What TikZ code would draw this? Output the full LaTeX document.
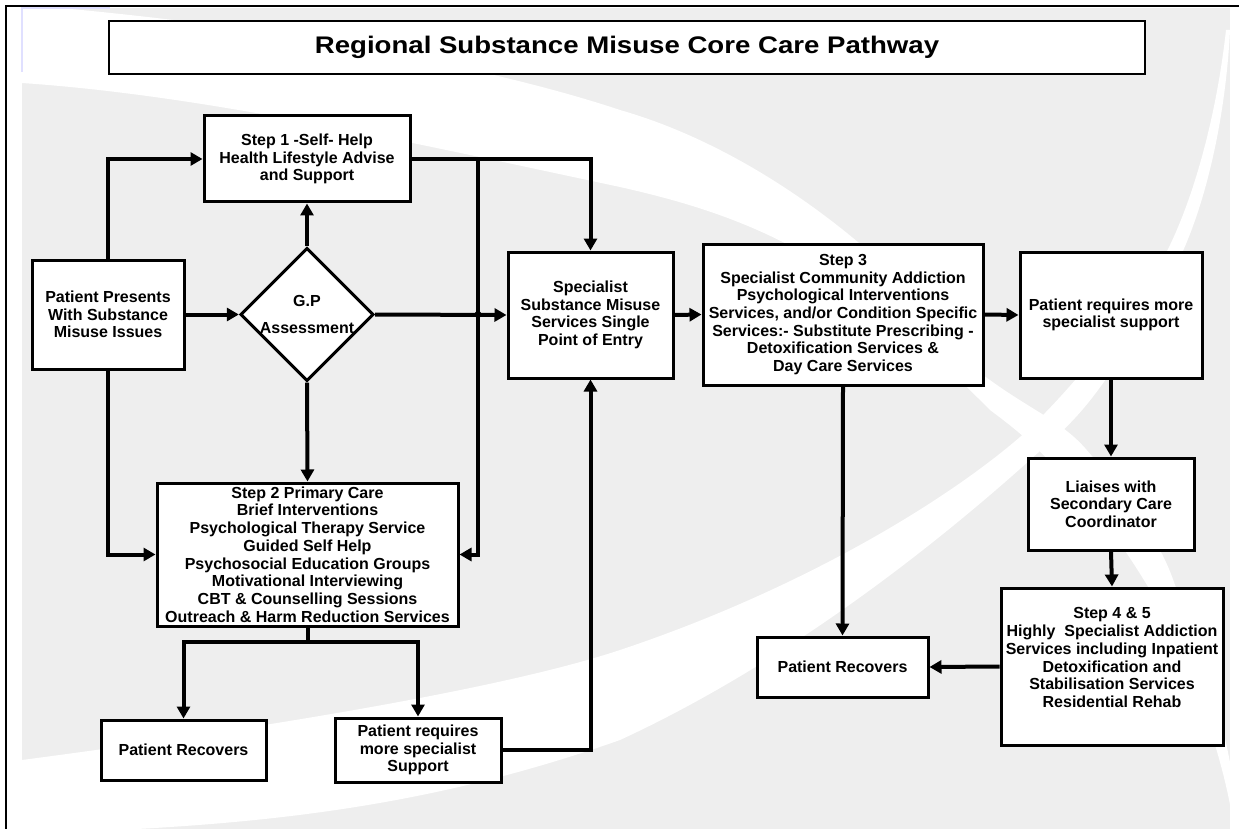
\documentclass[tikz,border=0pt]{standalone}
\usepackage{fontspec}
\setmainfont{Liberation Sans}
\usetikzlibrary{arrows.meta,shapes.geometric}
\definecolor{bg}{HTML}{EEEEEE}
\newcommand\boxfont{\bfseries\fontsize{16}{17.7}\selectfont}
\newcommand\titlefont{\bfseries\fontsize{24}{28}\selectfont}
\tikzset{
  box/.style={draw, line width=3pt, fill=white, align=center, inner sep=1pt, font=\boxfont},
  decision/.style={diamond, draw, line width=3pt, fill=white, align=center, inner sep=0pt, font=\boxfont},
  conn/.style={line width=4pt, -{Triangle[length=12pt,width=13pt]}},
  plain/.style={line width=4pt}
}
\begin{document}
\begin{tikzpicture}[x=1pt,y=-1pt]
\useasboundingbox (0,0) rectangle (1239,829);
% background
\fill[bg] (22,8) rectangle (1230,829);
\begin{scope}
\clip (22,8) rectangle (1239,829);
% upper band sweeping down to the lower right
\fill[white] (22,8) -- (60,8) .. controls (300,30) and (500,70) .. (620,110)
  .. controls (760,150) and (900,260) .. (983,375)
  .. controls (1030,410) and (1060,420) .. (1085,448)
  .. controls (1130,500) and (1160,540) .. (1175,585)
  .. controls (1205,660) and (1232,740) .. (1239,829)
  -- (1234,829) .. controls (1225,760) and (1190,660) .. (1150,590)
  .. controls (1120,540) and (1090,500) .. (1060,472)
  .. controls (1030,440) and (1010,425) .. (990,410)
  .. controls (950,370) and (900,320) .. (860,290)
  .. controls (780,230) and (700,205) .. (620,187)
  .. controls (400,140) and (200,95) .. (22,83) -- cycle;
% lower band rising to the upper right
\fill[white] (22,760) .. controls (250,730) and (500,690) .. (620,650)
  .. controls (800,590) and (950,500) .. (1028,430)
  .. controls (1090,370) and (1130,310) .. (1150,280)
  .. controls (1185,230) and (1215,130) .. (1226,30)
  -- (1230,30) .. controls (1225,130) and (1200,230) .. (1165,285)
  .. controls (1130,340) and (1100,400) .. (1052,440)
  .. controls (900,580) and (750,680) .. (620,740)
  .. controls (450,800) and (300,820) .. (137,829) -- (22,829) -- cycle;
\end{scope}
\draw[blue!12, line width=1.5pt] (22,72) -- (22,8) -- (110,8);
% frame
\draw[line width=2pt] (6,829) -- (6,6) -- (1239,6);

% nodes
\node[box, line width=2pt, font=\titlefont, minimum width=1036pt, minimum height=53pt] (title) at (627,47.5) {\scalebox{1.15}[1]{Regional Substance Misuse Core Care Pathway}};
\node[box, minimum width=206pt, minimum height=86pt] (step1) at (307,159) {Step 1 -Self- Help\\Health Lifestyle Advise\\and Support};
\node[box, minimum width=152pt, minimum height=109pt] (pp) at (108,314.5) {Patient Presents\\With Substance\\Misuse Issues};
\node[decision, minimum width=132pt, minimum height=125pt] (gp) at (307,314.5) {G.P\\[10pt]Assessment};
\node[box, minimum width=165pt, minimum height=126pt] (spoe) at (590.5,315) {Specialist\\Substance Misuse\\Services Single\\Point of Entry};
\node[box, minimum width=280pt, minimum height=141pt] (step3) at (843,314.5) {Step 3\\Specialist Community Addiction\\Psychological Interventions\\Services, and/or Condition Specific\\Services:- Substitute Prescribing -\\Detoxification Services \&\\Day Care Services};
\node[box, minimum width=182pt, minimum height=126pt] (prms) at (1111,315) {Patient requires more\\specialist support};
\node[box, minimum width=166pt, minimum height=92pt] (liaise) at (1111,504) {Liaises with\\Secondary Care\\Coordinator};
\node[box, minimum width=222pt, minimum height=157pt] (s45) at (1112,666.5) {Step 4 \& 5\\Highly\ \ Specialist Addiction\\Services including Inpatient\\Detoxification and\\Stabilisation Services\\Residential Rehab\\\mbox{}};
\node[box, minimum width=171pt, minimum height=60pt] (prr) at (842.5,667) {Patient Recovers};
\node[box, minimum width=301pt, minimum height=143pt] (step2) at (307.5,554.5) {Step 2 Primary Care\\Brief Interventions\\Psychological Therapy Service\\Guided Self Help\\Psychosocial Education Groups\\Motivational Interviewing\\CBT \& Counselling Sessions\\Outreach \& Harm Reduction Services};
\node[box, minimum width=165pt, minimum height=60pt] (prl) at (183.5,750) {Patient Recovers};
\node[box, minimum width=166pt, minimum height=64pt] (prs) at (418,750) {Patient requires\\more specialist\\Support};

% helper coordinates
\coordinate (j1) at (478,159);
\coordinate (j2) at (j1 |- gp.east);
\coordinate (br) at ([yshift=-14pt]step2.south);

% connectors
\draw[conn] (pp.north) |- (step1.west);
\draw[conn] (pp.east) -- (gp.west);
\draw[conn] (gp.north) -- (step1.south);
\draw[conn] (gp.east) -- (spoe.west);
\fill (j2) circle (3.5pt);
\draw[conn] (step1.east) -| (spoe.north);
\draw[conn] (j1) |- (step2.east);
\draw[conn] (pp.south) |- (step2.west);
\draw[conn] (gp.south) -- (step2.north);
\draw[plain] (step2.south) -- (br);
\draw[conn] (br) -| (prl.north);
\draw[conn] (br) -| (prs.north);
\draw[conn] (prs.east) -| (spoe.south);
\draw[conn] (spoe.east) -- (step3.west);
\draw[conn] (step3.east) -- (prms.west);
\draw[conn] (step3.south) -- (prr.north);
\draw[conn] (prms.south) -- (liaise.north);
\draw[conn] (liaise.south) -- (s45.north);
\draw[conn] (s45.west) -- (prr.east);
\end{tikzpicture}
\end{document}
